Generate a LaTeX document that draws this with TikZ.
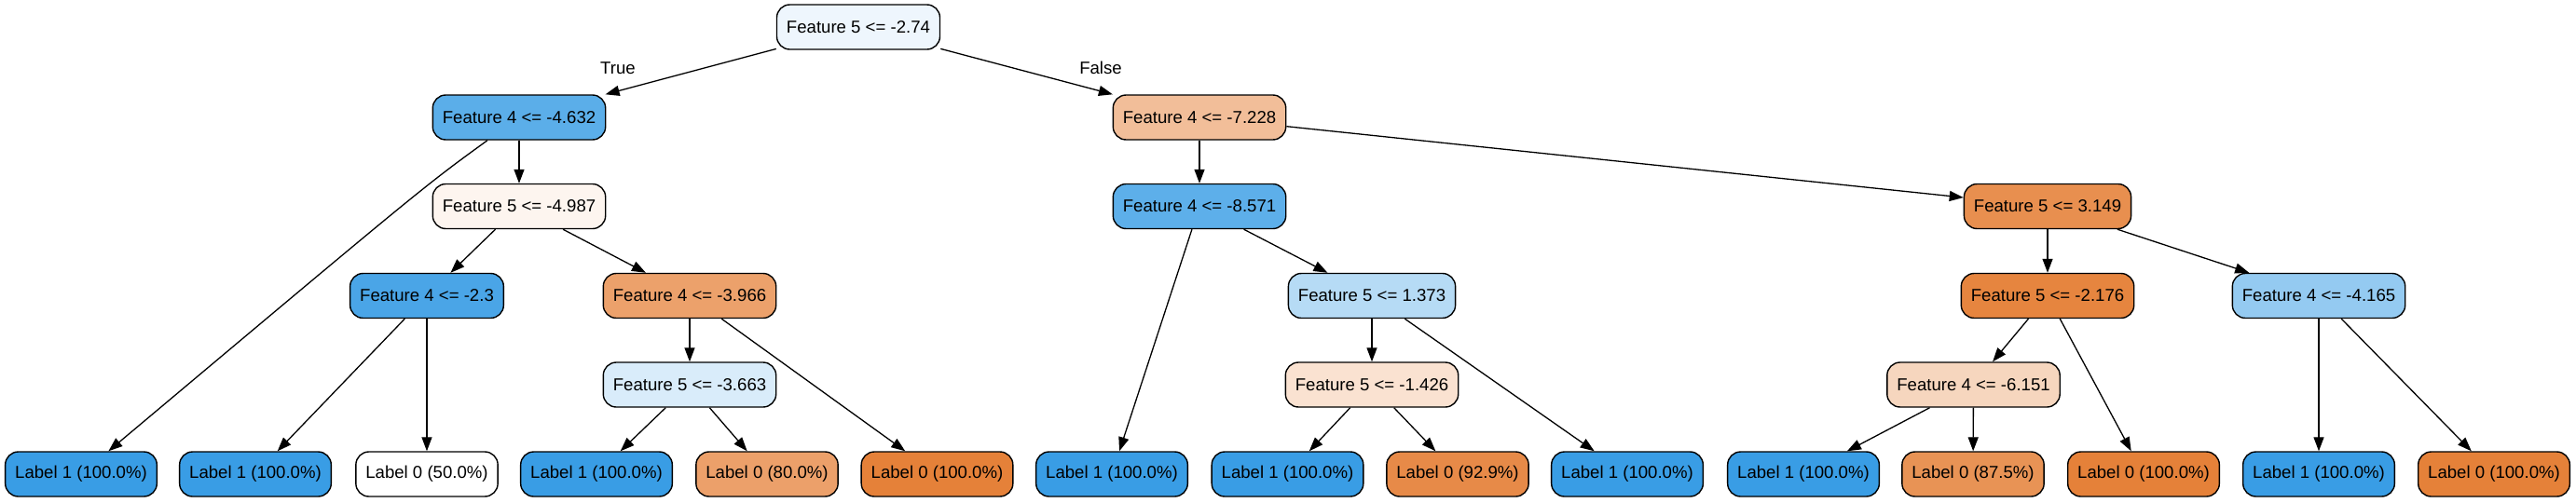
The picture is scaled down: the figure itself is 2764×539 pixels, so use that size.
\documentclass[tikz,border=0pt]{standalone}
\usepackage{fontspec}
\setmainfont{Liberation Sans}
\usetikzlibrary{arrows.meta}
\definecolor{cblue}{HTML}{399DE5}
\definecolor{corange}{HTML}{E58139}
\definecolor{c0}{HTML}{EEF6FD}
\definecolor{c1}{HTML}{5BAEE9}
\definecolor{c2}{HTML}{FDF5EF}
\definecolor{c3}{HTML}{4AA5E7}
\definecolor{c4}{HTML}{ECA16B}
\definecolor{c5}{HTML}{D9ECFA}
\definecolor{c6}{HTML}{F2BE99}
\definecolor{c7}{HTML}{5DAFEA}
\definecolor{c8}{HTML}{B6DBF5}
\definecolor{c9}{HTML}{FAE2D1}
\definecolor{c10}{HTML}{E88F4F}
\definecolor{c11}{HTML}{E6853F}
\definecolor{c12}{HTML}{F6D6BE}
\definecolor{c13}{HTML}{94CAF1}
\definecolor{l80}{HTML}{ECA06A}
\definecolor{l929}{HTML}{E78A48}
\definecolor{l875}{HTML}{E89355}
\begin{document}
\begin{tikzpicture}[x=1pt,y=-1pt,
  box/.style={draw=black, line width=1.4pt, rounded corners=14pt, minimum height=48pt,
    inner xsep=10.5pt, inner ysep=0pt, font=\fontsize{18.6}{22}\selectfont, text=black},
  arr/.style={line width=1.3pt, -{Triangle[length=15pt,width=11pt]}},
  elab/.style={font=\fontsize{18.6}{22}\selectfont, inner sep=0pt}]
\useasboundingbox (0,0) rectangle (2764,539);
% internal nodes
\node[box, fill=c0]  (r)   at (921,29)     {Feature 5 <= -2.74};
\node[box, fill=c1]  (a)   at (557,126)    {Feature 4 <= -4.632};
\node[box, fill=c2]  (b)   at (557,221.5)  {Feature 5 <= -4.987};
\node[box, fill=c3]  (c)   at (458,317.5)  {Feature 4 <= -2.3};
\node[box, fill=c4]  (d)   at (740,317.5)  {Feature 4 <= -3.966};
\node[box, fill=c5]  (e)   at (740,413)    {Feature 5 <= -3.663};
\node[box, fill=c6]  (f)   at (1287,126)   {Feature 4 <= -7.228};
\node[box, fill=c7]  (g)   at (1287,221.5) {Feature 4 <= -8.571};
\node[box, fill=c8]  (h)   at (1472,317.5) {Feature 5 <= 1.373};
\node[box, fill=c9]  (i)   at (1472,413)   {Feature 5 <= -1.426};
\node[box, fill=c10] (j)   at (2197,221.5) {Feature 5 <= 3.149};
\node[box, fill=c11] (k)   at (2197,317.5) {Feature 5 <= -2.176};
\node[box, fill=c12] (m)   at (2117.5,413) {Feature 4 <= -6.151};
\node[box, fill=c13] (n)   at (2488,317.5) {Feature 4 <= -4.165};
% leaves
\node[box, fill=cblue]   (l1)  at (87,509)     {Label 1 (100.0\%)};
\node[box, fill=cblue]   (l2)  at (274,509)    {Label 1 (100.0\%)};
\node[box, fill=white]   (l3)  at (458,509)    {Label 0 (50.0\%)};
\node[box, fill=cblue]   (l4)  at (640,509)    {Label 1 (100.0\%)};
\node[box, fill=l80]     (l5)  at (823,509)    {Label 0 (80.0\%)};
\node[box, fill=corange] (l6)  at (1005.5,509) {Label 0 (100.0\%)};
\node[box, fill=cblue]   (l7)  at (1193,509)   {Label 1 (100.0\%)};
\node[box, fill=cblue]   (l8)  at (1381.5,509) {Label 1 (100.0\%)};
\node[box, fill=l929]    (l9)  at (1564,509)   {Label 0 (92.9\%)};
\node[box, fill=cblue]   (l10) at (1746,509)   {Label 1 (100.0\%)};
\node[box, fill=cblue]   (l11) at (1935,509)   {Label 1 (100.0\%)};
\node[box, fill=l875]    (l12) at (2117,509)   {Label 0 (87.5\%)};
\node[box, fill=corange] (l13) at (2300,509)   {Label 0 (100.0\%)};
\node[box, fill=cblue]   (l14) at (2488,509)   {Label 1 (100.0\%)};
\node[box, fill=corange] (l15) at (2676,509)   {Label 0 (100.0\%)};
% edge labels
\node[elab] (tl) at (663,73)  {True};
\node[elab] (fl) at (1181,73) {False};
% edges
\coordinate (k1) at (455,200);
\draw[arr] (r) -- (a);
\draw[arr] (r) -- (f);
\draw[arr] (a) .. controls (k1) .. (l1);
\draw[arr] (a) -- (b);
\draw[arr] (b) -- (c);
\draw[arr] (b) -- (d);
\draw[arr] (c) -- (l2);
\draw[arr] (c) -- (l3);
\draw[arr] (d) -- (e);
\draw[arr] (d) -- (l6);
\draw[arr] (e) -- (l4);
\draw[arr] (e) -- (l5);
\draw[arr] (f) -- (g);
\draw[arr] (f) -- (j);
\draw[arr] (g) -- (l7);
\draw[arr] (g) -- (h);
\draw[arr] (h) -- (i);
\draw[arr] (h) -- (l10);
\draw[arr] (i) -- (l8);
\draw[arr] (i) -- (l9);
\draw[arr] (j) -- (k);
\draw[arr] (j) -- (n);
\draw[arr] (k) -- (m);
\draw[arr] (k) -- (l13);
\draw[arr] (m) -- (l11);
\draw[arr] (m) -- (l12);
\draw[arr] (n) -- (l14);
\draw[arr] (n) -- (l15);
\end{tikzpicture}
\end{document}
